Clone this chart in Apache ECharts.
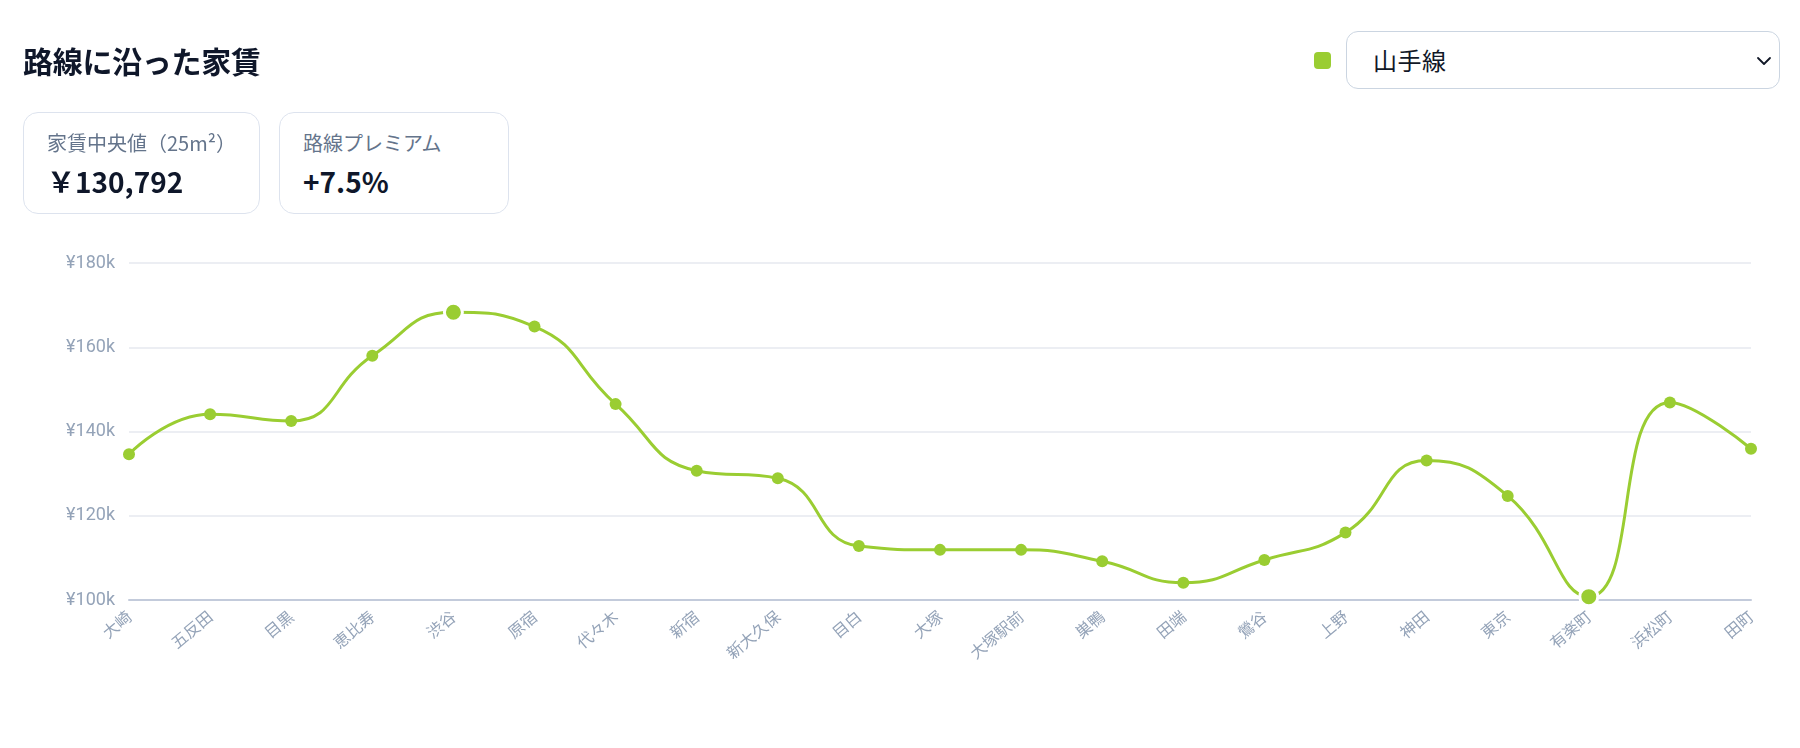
<!DOCTYPE html>
<html lang="ja">
<head>
<meta charset="utf-8">
<script src="https://cdn.jsdelivr.net/npm/echarts@6/dist/echarts.min.js"></script>
<style>
  html, body { margin: 0; padding: 0; background: #fff; }
  body { width: 1800px; height: 748px; position: relative; overflow: hidden;
         font-family: "Noto Sans CJK JP", "Noto Sans", sans-serif; }
  #chart { position: absolute; left: 0; top: 0; width: 1800px; height: 748px; }
  .title { position: absolute; left: 23px; top: 38px; font-size: 30px; font-weight: 700;
           color: #0f172a; line-height: 44px; letter-spacing: -0.3px; }
  .card { position: absolute; top: 112px; height: 102px; border: 1.5px solid #dde3ee;
          border-radius: 15px; box-sizing: border-box; background: #fff; }
  .card .lab { position: absolute; left: 23px; top: 16px; font-size: 20px; color: #64748b; line-height: 28px; }
  .card .val { position: absolute; left: 23px; top: 50px; font-size: 28px; font-weight: 700; color: #0f172a; line-height: 36px; }
  .legend-dot { position: absolute; left: 1314px; top: 52px; width: 17px; height: 17px; border-radius: 4px; background: #9acd32; }
  .select { position: absolute; left: 1346px; top: 31px; width: 434px; height: 58px; box-sizing: border-box;
            border: 1.5px solid #cbd5e1; border-radius: 12px; background: #fff; }
  .select .txt { position: absolute; left: 26px; top: 12px; font-size: 24px; color: #111827; line-height: 32px; letter-spacing: 0.5px; }
  .select svg { position: absolute; left: 409px; top: 24px; }
</style>
</head>
<body>
<div id="chart"></div>
<div class="title">路線に沿った家賃</div>
<div class="card" style="left:23px; width:237px;">
  <div class="lab">家賃中央値（25m²）</div>
  <div class="val">￥130,792</div>
</div>
<div class="card" style="left:279px; width:230px;">
  <div class="lab">路線プレミアム</div>
  <div class="val">+7.5%</div>
</div>
<div class="legend-dot"></div>
<div class="select">
  <div class="txt">山手線</div>
  <svg width="16" height="10" viewBox="0 0 16 10"><polyline points="2,2 8,8 14,2" fill="none" stroke="#111827" stroke-width="1.8" stroke-linecap="round" stroke-linejoin="round"/></svg>
</div>
<script>
const stations = ['大崎','五反田','目黒','恵比寿','渋谷','原宿','代々木','新宿','新大久保','目白','大塚','大塚駅前','巣鴨','田端','鶯谷','上野','神田','東京','有楽町','浜松町','田町'];
const rents = [134600,144100,142500,158000,168300,164900,146500,130700,128900,112800,111900,111900,109200,104100,109500,116000,133100,124700,100800,146900,135900];
const yMin = 100000, yMax = 180000, yStep = 20000;

const maxV = Math.max(...rents), minV = Math.min(...rents);
const seriesData = rents.map(v => {
  if (v === maxV || v === minV) {
    return { value: v, symbolSize: 18, itemStyle: { color: '#9acd32', borderColor: '#ffffff', borderWidth: 3 } };
  }
  return { value: v };
});

const chart = echarts.init(document.getElementById('chart'), null, { renderer: 'canvas' });
chart.setOption({
  animation: false,
  grid: { left: 129, right: 49, top: 263, bottom: 148 },
  xAxis: {
    type: 'category',
    data: stations,
    boundaryGap: false,
    axisLine: { show: true, lineStyle: { color: '#c3cbdb', width: 2 } },
    axisTick: { show: false },
    axisLabel: { color: '#94a3b8', fontSize: 16, rotate: 40, margin: 14, interval: 0,
                 fontFamily: '"Noto Sans CJK JP", sans-serif' },
    splitLine: { show: false }
  },
  yAxis: {
    type: 'value',
    min: yMin, max: yMax, interval: yStep,
    axisLine: { show: false },
    axisTick: { show: false },
    axisLabel: { color: '#94a3b8', fontSize: 18, margin: 14, fontFamily: 'Roboto, sans-serif',
                 formatter: v => '¥' + (v / 1000) + 'k' },
    splitLine: { lineStyle: { color: '#e6e9ef', width: 1.5 } }
  },
  series: [{
    type: 'line',
    data: seriesData,
    smooth: true,
    symbol: 'circle',
    symbolSize: 12,
    lineStyle: { color: '#9acd32', width: 3 },
    itemStyle: { color: '#9acd32' }
  }]
});
</script>
</body>
</html>
